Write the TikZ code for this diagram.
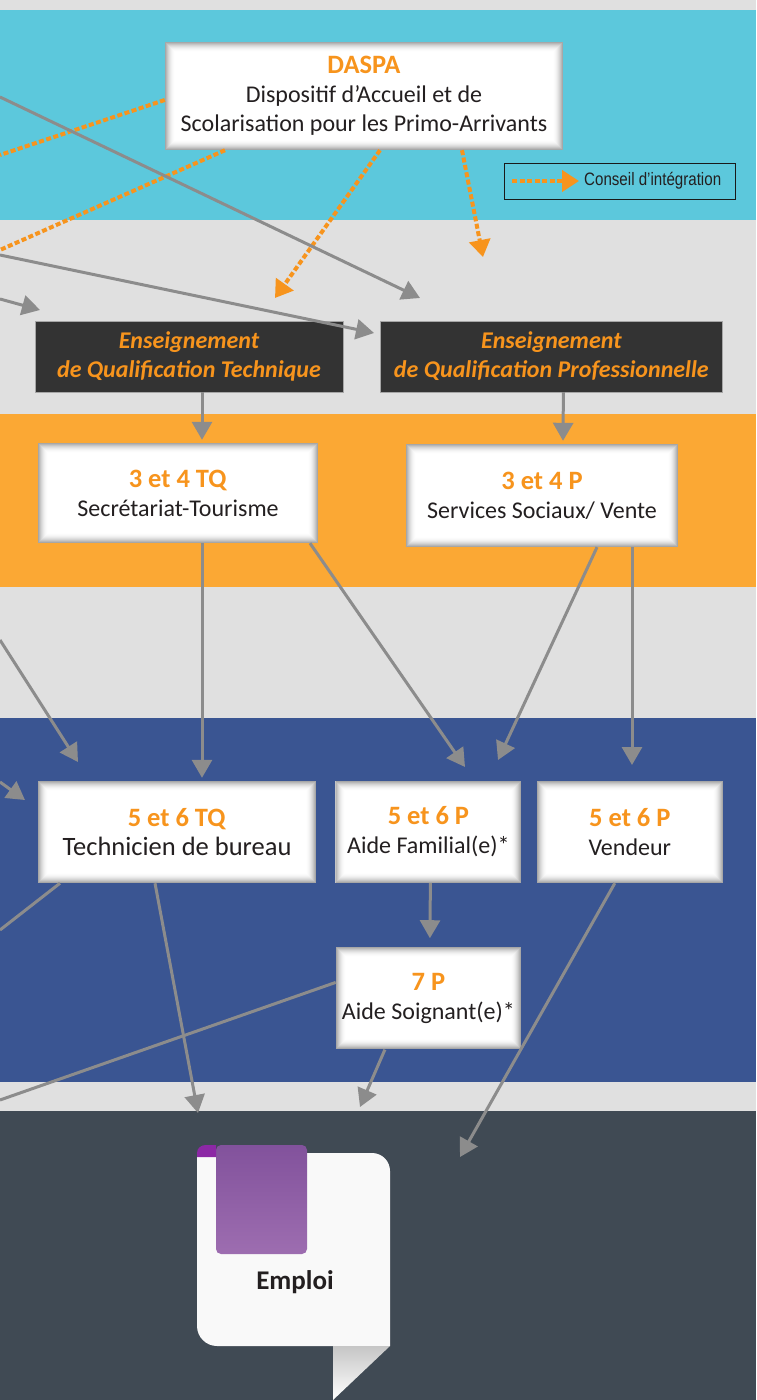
\documentclass[tikz,border=0pt]{standalone}
\usepackage{fontspec}
\setmainfont{Carlito}
\newfontfamily\legendfont[FakeStretch=0.84]{Liberation Sans}
\usetikzlibrary{positioning,calc,arrows.meta}
\definecolor{mycyan}{RGB}{92, 200, 220}
\definecolor{mygray}{RGB}{224, 224, 224}
\definecolor{myorange}{RGB}{251, 168, 52}
\definecolor{mytext}{RGB}{247, 148, 29}
\definecolor{myblue}{RGB}{58, 85, 146}
\definecolor{myslate}{RGB}{64, 74, 84}
\definecolor{mydark}{RGB}{51, 51, 51}
\definecolor{myarrow}{RGB}{140, 140, 140}
\definecolor{myink}{RGB}{35, 31, 32}
\definecolor{docwhite}{RGB}{249, 249, 249}
\definecolor{mypurple}{RGB}{130, 82, 156}
\definecolor{mylilac}{RGB}{157, 109, 176}
\definecolor{mycurl}{RGB}{140, 40, 165}
\newcommand{\boxfont}{\fontsize{24}{29}\selectfont}
\newcommand{\boxfontlarge}{\fontsize{26.5}{29}\selectfont}
\newcommand{\cardtitle}[1]{{\fontsize{26.5}{29}\selectfont\textcolor{mytext}{\textbf{#1}}}}
\tikzstyle{card}=[fill=white,inner sep=0pt,align=center,text=myink,
  path picture={\foreach \i in {1,...,10}{
    \pgfmathsetmacro\c{42*(1-\i/11)^2}
    \pgfmathsetmacro\o{\i-0.5}
    \draw[black!\c,line width=1.1pt]
      ([xshift=\o pt,yshift=\o pt]path picture bounding box.south west) rectangle
      ([xshift=-\o pt,yshift=-\o pt]path picture bounding box.north east);}}]
\tikzstyle{ens}=[draw=gray!70,fill=mydark,text=mytext,font=\boxfont\bfseries\itshape,
  align=center,inner sep=0pt,minimum height=71pt]
\tikzstyle{flow}=[-{Triangle[length=18pt,width=20pt]},draw=myarrow,line width=3pt]
\tikzstyle{advice}=[-{Triangle[length=17pt,width=21pt]},draw=mytext,line width=4pt,
  dash pattern=on 5pt off 2.5pt]

\begin{document}
\begin{tikzpicture}[x=1pt,y=-1pt]
\useasboundingbox (0,0) rectangle (756,1400);
% bands
\fill[mygray] (0,0) rectangle (756,1400);
\fill[mycyan] (0,10) rectangle (756,220);
\fill[myorange] (0,414) rectangle (756,587);
\fill[myblue] (0,718) rectangle (756,1082);
\fill[myslate] (0,1111) rectangle (756,1400);

\node (daspa) [card,minimum width=398pt,minimum height=108pt,font=\boxfont] at (364,96)
  {\cardtitle{DASPA}\\Dispositif d’Accueil et de\\Scolarisation pour les Primo-Arrivants};
\node (legend) [draw=black!90,fill=mycyan,minimum width=231pt,minimum height=36pt,inner sep=0pt] at (619.5,181) {};
\node (legtext) [anchor=west,inner sep=0pt,text=myink,font=\legendfont\fontsize{18}{20}\selectfont] at (584,181) {Conseil d’intégration};

\node (ensT) [ens,minimum width=308pt] at (189,356.5) {Enseignement\\de Qualification Technique};
\node (ensP) [ens,minimum width=342pt,right=37pt of ensT] {Enseignement\\de Qualification Professionnelle};

\node (tq34) [card,minimum width=280pt,minimum height=100pt,font=\boxfont] at (178,493)
  {\cardtitle{3 et 4 TQ}\\Secrétariat-Tourisme};
\node (p34) [card,minimum width=272pt,minimum height=103pt,font=\boxfont] at (542,495.5)
  {\cardtitle{3 et 4 P}\\Services Sociaux/ Vente};

\node (tq56) [card,minimum width=278pt,minimum height=102pt,font=\boxfontlarge] at (177,832)
  {\cardtitle{5 et 6 TQ}\\Technicien de bureau};
\node (p56a) [card,minimum width=186pt,minimum height=102pt,font=\boxfont,right=19pt of tq56]
  {\cardtitle{5 et 6 P}\\Aide Familial(e)*};
\node (p56v) [card,minimum width=186pt,minimum height=102pt,font=\boxfont,right=15pt of p56a]
  {\cardtitle{5 et 6 P}\\Vendeur};
\node (p7) [card,minimum width=185pt,minimum height=102pt,font=\boxfont,below=64pt of p56a]
  {\cardtitle{7 P}\\Aide Soignant(e)*};

% emploi
\fill[docwhite] (197,1153) -- (372,1153) .. controls (382,1153) and (390,1161) .. (390,1171)
  -- (390,1346) -- (217,1346) .. controls (206,1346) and (197,1337) .. (197,1326) -- cycle;
\shade[top color=mypurple,bottom color=mylilac,rounded corners=5pt] (216,1145) rectangle (307,1254);
\fill[mycurl] (197,1157) -- (197,1153) .. controls (197,1148) and (201,1145) .. (206,1145)
  -- (216,1145) -- (216,1157) -- cycle;
\shade[top color=gray!45,bottom color=white] (333,1346) -- (390,1346) -- (333,1400) -- cycle;
\node (emploi) [text=myink,font=\fontsize{27}{30}\selectfont\bfseries] at (295,1282) {Emploi};

\coordinate (inA) at (0,97);   \coordinate (tipA) at (420,298);
\coordinate (inB) at (0,255);  \coordinate (tipB) at (374,333);
\coordinate (inC) at (0,299);  \coordinate (tipC) at (40,310);
\coordinate (outA) at (0,155); \coordinate (outB) at (0,250);
\coordinate (tipD) at (275,298); \coordinate (tipE) at (483,257);
\coordinate (tipF) at (465,767); \coordinate (tipG) at (498,760); \coordinate (tipH) at (632,765);
\coordinate (inD) at (0,640);  \coordinate (tipI) at (78,762);
\coordinate (inE) at (0,782);  \coordinate (tipJ) at (25,800);
\coordinate (outC) at (0,930); \coordinate (tipK) at (198,1113);
\coordinate (outD) at (0,1100); \coordinate (tipL) at (360,1107);
\coordinate (tipM) at (460,1157);
\coordinate (legA) at (512,181); \coordinate (legB) at (579,181);

% conseil
\draw[advice] (legA) -- (legB);
\draw[advice,-] ([yshift=-4pt]daspa.west) -- (outA);
\draw[advice,-] ([xshift=-139pt]daspa.south) -- (outB);
\draw[advice] ([xshift=16pt]daspa.south) -- (tipD);
\draw[advice] ([xshift=98pt]daspa.south) -- (tipE);

% parcours
\draw[flow] (inA) -- (tipA);
\draw[flow] (inB) -- (tipB);
\draw[flow] (inC) -- (tipC);
\draw[flow] ([xshift=13pt]ensT.south) -- ([xshift=24pt,yshift=3pt]tq34.north);
\draw[flow] ([xshift=12pt]ensP.south) -- ([xshift=21pt,yshift=3pt]p34.north);
\draw[flow] ([xshift=24pt]tq34.south) -- ([xshift=25pt,yshift=3pt]tq56.north);
\draw[flow] ([xshift=132pt]tq34.south) -- (tipF);
\draw[flow] ([xshift=55pt]p34.south) -- (tipG);
\draw[flow] ([xshift=90pt]p34.south) -- (tipH);
\draw[flow] (inD) -- (tipI);
\draw[flow] (inE) -- (tipJ);
\draw[flow,-] ([xshift=-117pt]tq56.south) -- (outC);
\draw[flow] ([xshift=-22pt]tq56.south) -- (tipK);
\draw[flow] ([xshift=2pt]p56a.south) -- ([xshift=1.5pt,yshift=9pt]p7.north);
\draw[flow,-] ([yshift=16pt]p7.west) -- (outD);
\draw[flow] ([xshift=-43.5pt]p7.south) -- (tipL);
\draw[flow] ([xshift=-15pt]p56v.south) -- (tipM);
\end{tikzpicture}
\end{document}
